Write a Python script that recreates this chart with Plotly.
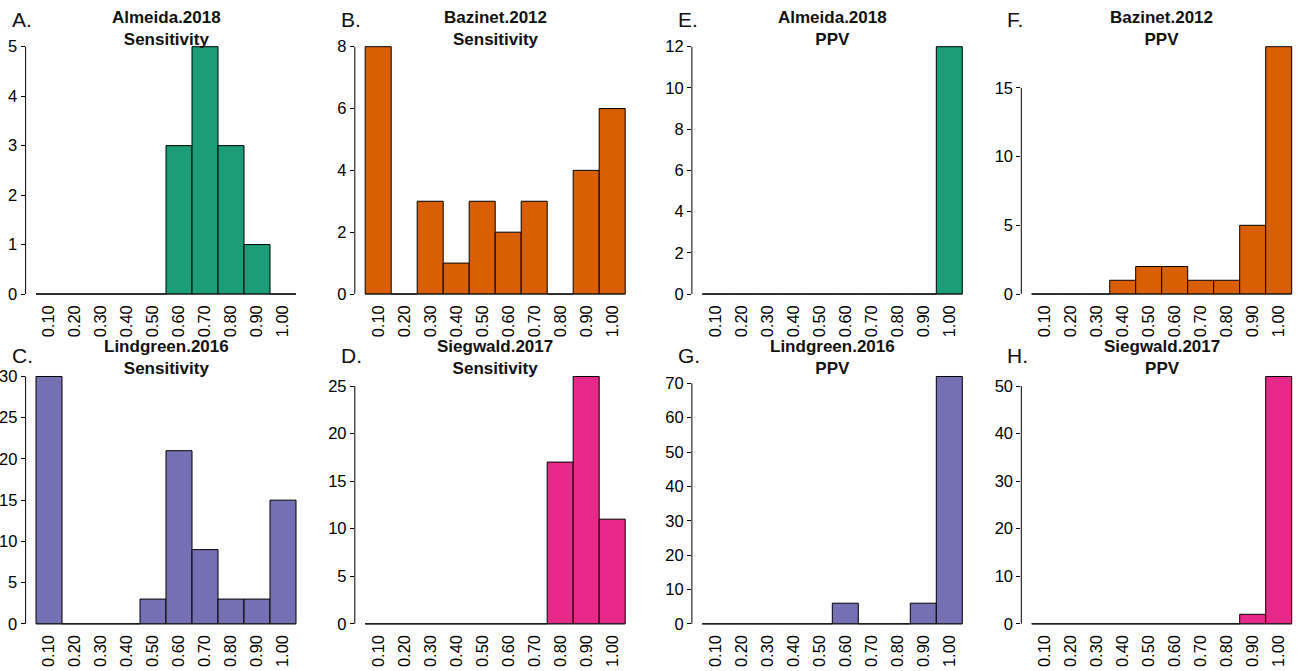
import plotly.graph_objects as go

# ---- data ----
bin_centers = [0.1, 0.2, 0.3, 0.4, 0.5, 0.6, 0.7, 0.8, 0.9, 1.0]
tick_labels = ["0.10", "0.20", "0.30", "0.40", "0.50", "0.60", "0.70", "0.80", "0.90", "1.00"]

almeida_sens   = [0, 0, 0, 0, 0, 3, 5, 3, 1, 0]
bazinet_sens   = [8, 0, 3, 1, 3, 2, 3, 0, 4, 6]
lindgreen_sens = [30, 0, 0, 0, 3, 21, 9, 3, 3, 15]
siegwald_sens  = [0, 0, 0, 0, 0, 0, 0, 17, 26, 11]
almeida_ppv    = [0, 0, 0, 0, 0, 0, 0, 0, 0, 12]
bazinet_ppv    = [0, 0, 0, 1, 2, 2, 1, 1, 5, 18]
lindgreen_ppv  = [0, 0, 0, 0, 0, 6, 0, 0, 6, 72]
siegwald_ppv   = [0, 0, 0, 0, 0, 0, 0, 0, 2, 52]

study_colors = {
    "Almeida.2018": "#1B9E77",
    "Bazinet.2012": "#D95F02",
    "Lindgreen.2016": "#7570B3",
    "Siegwald.2017": "#E7298A",
}

# panel: (letter, study, metric, counts, tick step, row, col)
panels = [
    ("A.", "Almeida.2018", "Sensitivity", almeida_sens, 1, 0, 0),
    ("B.", "Bazinet.2012", "Sensitivity", bazinet_sens, 2, 0, 1),
    ("C.", "Lindgreen.2016", "Sensitivity", lindgreen_sens, 5, 1, 0),
    ("D.", "Siegwald.2017", "Sensitivity", siegwald_sens, 5, 1, 1),
    ("E.", "Almeida.2018", "PPV", almeida_ppv, 2, 0, 2),
    ("F.", "Bazinet.2012", "PPV", bazinet_ppv, 5, 0, 3),
    ("G.", "Lindgreen.2016", "PPV", lindgreen_ppv, 10, 1, 2),
    ("H.", "Siegwald.2017", "PPV", siegwald_ppv, 10, 1, 3),
]

# ---- layout geometry (window pixels) ----
W, H = 1303, 671
col_left = [25.6, 354.8, 691.9, 1021.3]
plot_w = 280.8
row_top = [36.8, 366.6]
plot_h = 267.1
FONT = "Liberation Sans, Arial, Helvetica, sans-serif"


def px_x(p):
    return p / W


def px_y(p):
    return 1 - p / H


fig = go.Figure()
layout = dict(
    width=W, height=H,
    margin=dict(l=0, r=0, t=0, b=0, pad=0),
    paper_bgcolor="white", plot_bgcolor="white",
    showlegend=False, bargap=0,
    font=dict(family=FONT, size=16, color="#000000"),
)
annotations = []
shapes = []

bw = bin_centers[1] - bin_centers[0]
edge_lo = bin_centers[0] - bw / 2
edge_hi = bin_centers[-1] + bw / 2
span = edge_hi - edge_lo
x_lo = edge_lo - 0.04 * span
units_per_px = span * 1.08 / plot_w

for i, (letter, study, metric, counts, step, r, c) in enumerate(panels):
    n = i + 1
    xa = "x" if n == 1 else f"x{n}"
    ya = "y" if n == 1 else f"y{n}"
    color = study_colors[study]
    m = max(counts)
    yticks = list(range(0, m + 1, step))

    fig.add_trace(go.Scatter(
        x=[edge_lo, edge_hi], y=[0, 0], mode="lines",
        line=dict(color="#222222", width=1), hoverinfo="skip",
        xaxis=xa, yaxis=ya,
    ))
    fig.add_trace(go.Bar(
        x=bin_centers, y=counts, width=bw,
        marker=dict(color=color, line=dict(color="#000000", width=1)),
        xaxis=xa, yaxis=ya, name=f"{study} {metric}",
    ))

    left_px = col_left[c]
    right_px = min(col_left[c] + plot_w, W)
    x0 = px_x(left_px)
    x1 = px_x(right_px)
    x_hi = x_lo + (right_px - left_px) * units_per_px
    y1 = px_y(row_top[r])
    y0 = px_y(row_top[r] + plot_h)

    layout["xaxis" if n == 1 else f"xaxis{n}"] = dict(
        domain=[x0, x1], anchor=ya, automargin=False,
        range=[x_lo, x_hi],
        tickmode="array", tickvals=bin_centers, ticktext=tick_labels,
        tickangle=-90, ticks="", showgrid=False, zeroline=False,
        ticklabelstandoff=-3,
        showline=False, tickfont=dict(size=16.5, family=FONT, color="#000000"),
        fixedrange=True,
    )
    layout["yaxis" if n == 1 else f"yaxis{n}"] = dict(
        domain=[y0, y1], anchor=xa, automargin=False,
        range=[-0.04 * m, 1.04 * m],
        tickmode="array", tickvals=yticks, ticktext=[str(v) for v in yticks],
        ticks="outside", ticklen=4, tickwidth=1, tickcolor="#000000",
        showgrid=False, zeroline=False, showline=False,
        tickfont=dict(size=16.5, family=FONT, color="#000000"),
        fixedrange=True,
    )
    shapes.append(dict(
        type="line", xref=f"{xa} domain", yref=ya,
        x0=0, x1=0, y0=0, y1=yticks[-1],
        line=dict(color="#000000", width=1),
    ))

    cx = px_x(col_left[c] + plot_w / 2)
    title_mid = [28.5, 357.5][r]
    annotations.append(dict(
        text=f"<b>{study}</b><br><b>{metric}</b>",
        xref="paper", yref="paper", x=cx, y=px_y(title_mid),
        xanchor="center", yanchor="middle", showarrow=False,
        font=dict(size=17, family=FONT, color="#111111"),
    ))
    letter_mid = [20, 355][r]
    annotations.append(dict(
        text=letter, xref="paper", yref="paper",
        x=px_x(col_left[c] - 16), y=px_y(letter_mid),
        xanchor="left", yanchor="middle", showarrow=False,
        font=dict(size=21, family=FONT, color="#111111"),
    ))

layout["annotations"] = annotations
layout["shapes"] = shapes
fig.update_layout(**layout)
fig.write_html(
    "out.html",
    config={"displayModeBar": False, "staticPlot": True},
    post_script="document.body.style.margin='0';document.body.style.overflow='hidden';",
)
